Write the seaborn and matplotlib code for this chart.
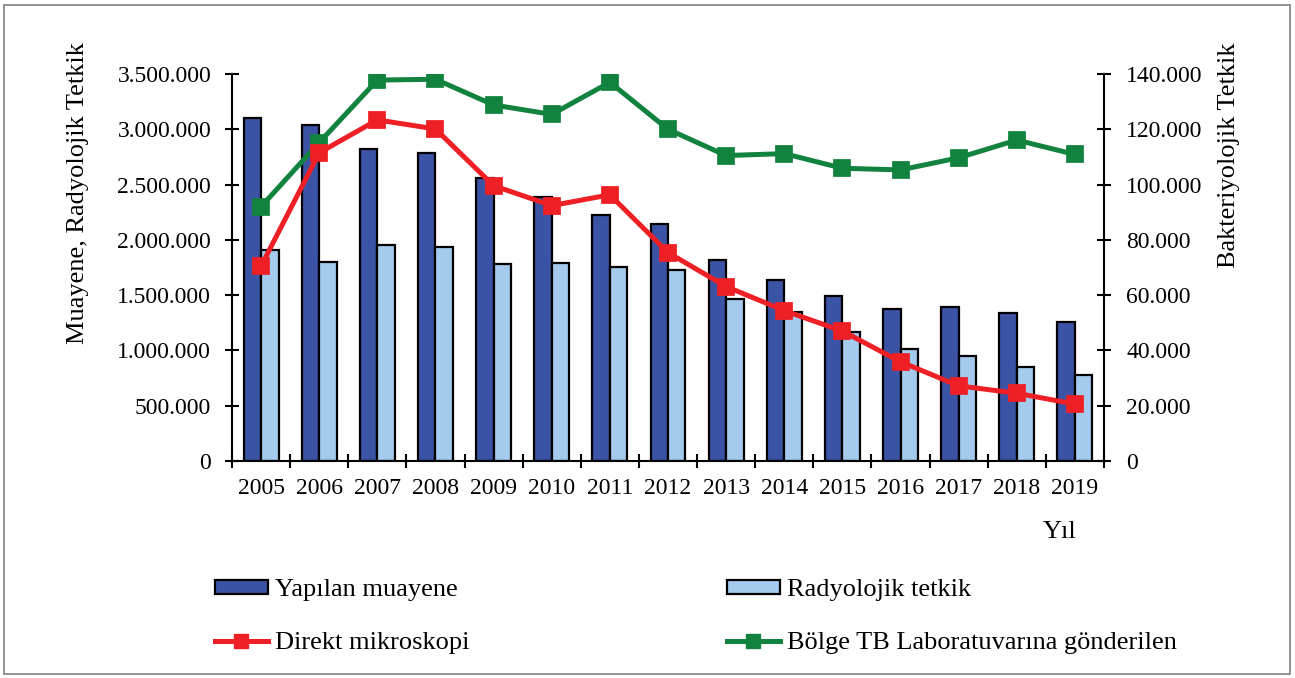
import numpy as np
import pandas as pd
import matplotlib
matplotlib.use("Agg")
import matplotlib.pyplot as plt
from matplotlib.patches import Patch, Rectangle
from matplotlib.lines import Line2D
from matplotlib.ticker import FuncFormatter, MultipleLocator
import seaborn as sns

# ---------------- data ----------------
years = [str(y) for y in range(2005, 2020)]
muayene = [3100000, 3035000, 2818000, 2782000, 2556000, 2385000, 2222000, 2143000,
           1815000, 1640000, 1492000, 1374000, 1390000, 1335000, 1257000]
radyolojik = [1908000, 1797000, 1950000, 1932000, 1781000, 1793000, 1757000, 1725000,
              1465000, 1350000, 1164000, 1010000, 952000, 847000, 775000]
direkt = [70500, 111500, 123400, 120100, 99600, 92400, 96300, 75400,
          63100, 54400, 47000, 35900, 27200, 24500, 20600]
bolge = [92000, 115200, 137800, 138100, 128800, 125400, 137000, 120000,
         110500, 111200, 105900, 105300, 109700, 116100, 110900]

bar_names = ["Yapılan muayene", "Radyolojik tetkik"]
line_names = ["Direkt mikroskopi", "Bölge TB Laboratuvarına gönderilen"]
left_label = "Muayene, Radyolojik Tetkik"
right_label = "Bakteriyolojik Tetkik"
x_label = "Yıl"

c_dark = "#3B53A4"
c_light = "#A4CBEE"
c_red = "#EE1F25"
c_green = "#12833F"

plt.rcParams["font.family"] = ["Liberation Serif", "DejaVu Serif"]
FS_TICK = 17
FS_LAB = 19

bars_df = pd.DataFrame({
    "Yıl": years * 2,
    "Değer": muayene + radyolojik,
    "Seri": [bar_names[0]] * len(years) + [bar_names[1]] * len(years),
})
lines_df = pd.DataFrame({"Yıl": years, "direkt": direkt, "bolge": bolge})

W, H = 1295, 678
fig = plt.figure(figsize=(W / 100, H / 100), dpi=100)
ax = fig.add_axes([232 / W, (H - 461) / H, (1104 - 232) / W, (461 - 74) / H])

sns.barplot(data=bars_df, x="Yıl", y="Değer", hue="Seri", palette=[c_dark, c_light],
            width=0.6, edgecolor="black", linewidth=1.6, legend=False, ax=ax,
            errorbar=None, saturation=1)

ax2 = ax.twinx()
sns.pointplot(data=lines_df, x="Yıl", y="bolge", color=c_green, markers="s",
              linestyles="-", markersize=10, linewidth=3.6, errorbar=None, ax=ax2)
sns.pointplot(data=lines_df, x="Yıl", y="direkt", color=c_red, markers="s",
              linestyles="-", markersize=10, linewidth=3.6, errorbar=None, ax=ax2)

fmt = FuncFormatter(lambda v, p: f"{int(round(v)):,}".replace(",", "."))

ax.set_ylim(0, 3500000)
ax.yaxis.set_major_locator(MultipleLocator(500000))
ax.yaxis.set_major_formatter(fmt)
ax2.set_ylim(0, 140000)
ax2.yaxis.set_major_locator(MultipleLocator(20000))
ax2.yaxis.set_major_formatter(fmt)
ax.set_xlim(-0.5, len(years) - 0.5)
ax2.set_xlim(-0.5, len(years) - 0.5)

ax.set_xlabel("")
ax.set_ylabel("")
ax2.set_xlabel("")
ax2.set_ylabel("")

for a in (ax, ax2):
    a.set_facecolor("none")
    a.grid(False)
    a.spines["top"].set_visible(False)
ax.spines["right"].set_visible(False)
ax2.spines["left"].set_visible(False)
ax2.spines["bottom"].set_visible(False)
for s in ("left", "bottom"):
    ax.spines[s].set_linewidth(1.5)
    ax.spines[s].set_color("black")
ax2.spines["right"].set_linewidth(1.5)
ax2.spines["right"].set_color("black")

ax.set_xticks(np.arange(len(years)))
ax.set_xticklabels(years)
ax.set_xticks(np.arange(-0.5, len(years), 1), minor=True)
ax.tick_params(axis="x", which="major", length=0, pad=12, labelsize=FS_TICK)
ax.tick_params(axis="x", which="minor", length=10, width=1.5, direction="inout")
ax.tick_params(axis="y", which="major", length=10, width=1.5, direction="inout",
               pad=10, labelsize=FS_TICK)
ax2.tick_params(axis="y", which="major", length=10, width=1.5, direction="inout",
                pad=11, labelsize=FS_TICK)

fig.text(78 / W, 1 - 193 / H, left_label, rotation=90, ha="center", va="center", fontsize=FS_LAB)
fig.text(1229 / W, 1 - 155 / H, right_label, rotation=90, ha="center", va="center", fontsize=FS_LAB)
fig.text(1060 / W, 1 - 532 / H, x_label, ha="center", va="center", fontsize=FS_LAB)

# legends (two columns)
h_dark = Patch(facecolor=c_dark, edgecolor="black", linewidth=1.6)
h_light = Patch(facecolor=c_light, edgecolor="black", linewidth=1.6)
h_red = Line2D([], [], color=c_red, lw=3.6, marker="s", markersize=10)
h_green = Line2D([], [], color=c_green, lw=3.6, marker="s", markersize=10)

common = dict(frameon=False, fontsize=FS_LAB, handlelength=2.0, handleheight=0.45,
              handletextpad=0.27, labelspacing=1.18, borderpad=0, borderaxespad=0,
              loc="upper left")
fig.legend([h_dark, h_red], [bar_names[0], line_names[0]],
           bbox_to_anchor=(215 / W, 1 - 579 / H), **common)
fig.legend([h_light, h_green], [bar_names[1], line_names[1]],
           bbox_to_anchor=(727 / W, 1 - 579 / H), **common)

# outer border
fig.patches.append(Rectangle((4 / W, 4 / H), (W - 9) / W, (H - 9) / H, transform=fig.transFigure,
                             fill=False, edgecolor="#8a8a8a", linewidth=1.3))

fig.savefig("out.png", dpi=100)
